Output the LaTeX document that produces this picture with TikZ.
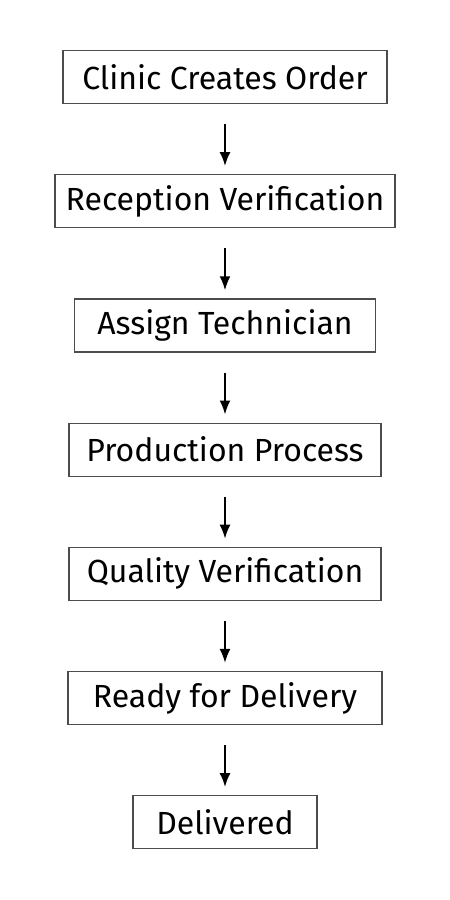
\documentclass[tikz,border=0pt]{standalone}
\usepackage{fontspec}
\setmainfont{Fira Sans}
\usetikzlibrary{positioning,arrows.meta}

\begin{document}
\begin{tikzpicture}[x=1pt,y=1pt,
   stagebox/.style={draw=black!70,line width=1.2pt,inner xsep=8pt,minimum height=53pt,font=\fontsize{32}{36}\selectfont},
   flow/.style={-{Latex[length=14pt,width=11pt]},line width=2pt,shorten <=20pt,shorten >=8pt},
   node distance=70pt]
\useasboundingbox (0,0) rectangle (450,-900);
\node[stagebox,minimum width=324pt] (order) at (225,-77) {Clinic Creates Order};
\node[stagebox,minimum width=340pt,below=of order] (recv) {Reception Verification};
\node[stagebox,minimum width=301pt,below=of recv] (tech) {Assign Technician};
\node[stagebox,minimum width=312pt,below=of tech] (prod) {Production Process};
\node[stagebox,minimum width=312pt,below=of prod] (qual) {Quality Verification};
\node[stagebox,minimum width=314pt,below=of qual] (ready) {Ready for Delivery};
\node[stagebox,minimum width=184pt,below=of ready] (done) {Delivered};
\foreach \a/\b in {order/recv,recv/tech,tech/prod,prod/qual,qual/ready,ready/done}
   \draw[flow] (\a) -- (\b);
\end{tikzpicture}
\end{document}
